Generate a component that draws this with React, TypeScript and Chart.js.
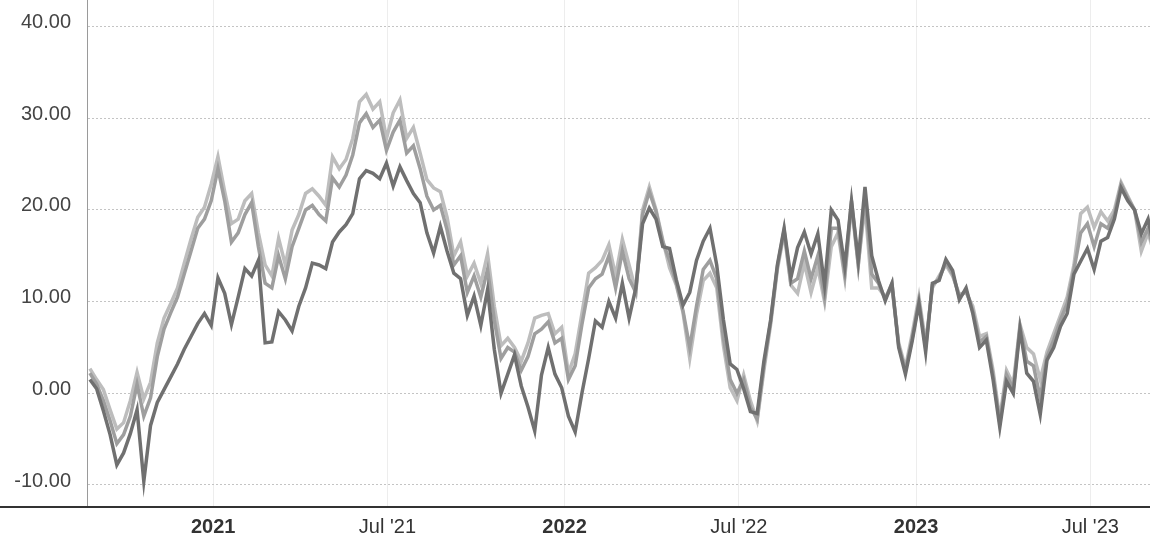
import React, { useEffect, useRef } from 'react';
import { Chart, registerables } from 'chart.js';

Chart.register(...registerables);

// x values: days relative to 1 Jan 2021, one point per week
const FIRST_DAY = -128;
const STEP_DAYS = 7;
const X_MIN = -131;
const X_MAX = 973;

const TICK_DAYS = [0, 181, 365, 546, 730, 911];
const TICK_LABELS = ['2021', "Jul '21", '2022', "Jul '22", '2023', "Jul '23"];
const YEAR_TICKS = ['2021', '2022', '2023'];

const Y_TICKS = [-10, 0, 10, 20, 30, 40];
const Y_MIN = -12.4;
const Y_MAX = 42.9;

const seriesDark = [
  1.5, 0.5, -1.9, -4.5, -7.8, -6.5, -4.4, -1.8, -9.6, -3.5,
  -1.0, 0.4, 1.8, 3.2, 4.8, 6.2, 7.6, 8.7, 7.4, 12.6,
  10.9, 7.5, 10.5, 13.6, 12.8, 14.5, 5.5, 5.6, 8.9, 8.0,
  6.8, 9.5, 11.5, 14.2, 14.0, 13.6, 16.5, 17.6, 18.4, 19.6,
  23.4, 24.3, 24.0, 23.4, 25.1, 22.6, 24.7, 23.2, 21.8, 20.8,
  17.5, 15.3, 18.2, 15.5, 13.1, 12.5, 8.5, 10.6, 7.4, 11.3,
  4.8, 0.0, 2.1, 4.2, 0.8, -1.5, -4.1, 2.0, 5.0, 2.1,
  0.6, -2.5, -4.2, 0.0, 3.8, 7.9, 7.2, 10.0, 8.2, 12.0,
  8.2, 11.5, 18.5, 20.2, 19.0, 16.0, 15.8, 12.4, 9.6, 11.0,
  14.5, 16.6, 18.0, 14.0, 8.0, 3.2, 2.6, 0.5, -2.0, -2.2,
  3.5, 8.0, 14.0, 18.0, 12.6, 15.9, 17.6, 15.2, 17.4, 11.8,
  20.0, 18.9, 13.8, 21.0, 14.5, 22.5, 15.0, 12.3, 10.1, 12.0,
  5.0, 2.1, 5.7, 9.8, 4.5, 12.0, 12.3, 14.6, 13.4, 10.2,
  11.5, 8.7, 5.0, 5.8, 1.5, -3.7, 1.3, 0.0, 7.0, 2.2,
  1.3, -2.3, 3.6, 5.0, 7.3, 8.7, 13.0, 14.4, 15.8, 13.5,
  16.6, 17.0, 19.0, 22.4, 21.0, 20.0, 17.4, 19.0, 15.5,
];

const seriesMid = [
  2.2, 1.0, -0.8, -3.0, -5.5, -4.5, -2.5, 1.0, -2.5, -0.5,
  4.0, 7.0, 8.8, 10.5, 13.0, 15.5, 18.0, 19.0, 21.0, 24.5,
  21.0, 16.5, 17.5, 19.5, 20.8, 16.0, 12.0, 11.5, 15.0, 12.5,
  16.0, 18.0, 20.0, 20.5, 19.5, 18.8, 23.5, 22.5, 23.8, 26.0,
  29.5, 30.5, 29.0, 29.8, 26.5, 28.5, 29.8, 26.2, 27.0, 24.5,
  21.5, 20.0, 20.5, 17.8, 14.0, 15.0, 11.0, 12.8, 10.5, 13.5,
  8.0, 3.8, 5.0, 4.5, 2.5, 4.0, 6.5, 7.0, 7.8, 5.5,
  6.0, 1.5, 3.0, 7.5, 11.5, 12.5, 13.0, 15.0, 11.5, 15.5,
  12.5, 11.0, 19.5, 22.0, 19.8, 16.5, 14.5, 12.0, 9.0, 5.0,
  9.5, 13.5, 14.5, 12.5, 6.0, 1.5, 0.0, 1.5, -1.5, -2.8,
  3.0, 7.8, 13.8, 17.8, 12.0, 12.5, 15.5, 12.5, 15.0, 10.5,
  18.0, 18.0, 13.0, 21.0, 14.0, 21.5, 13.0, 12.0, 10.3, 12.0,
  5.2, 2.5, 6.0, 10.0, 5.0, 11.8, 12.5, 14.3, 13.0, 10.5,
  11.2, 9.0, 5.6, 6.2, 2.0, -3.2, 2.0, 0.5, 7.3, 3.5,
  3.0, -0.5, 4.0, 5.8, 8.0, 9.8, 13.5, 17.5, 18.5, 16.0,
  18.5, 18.0, 19.5, 22.8, 21.3, 20.0, 16.5, 18.0, 15.2,
];

const seriesLight = [
  2.7, 1.5, 0.4, -1.8, -3.9, -3.2, -0.8, 2.3, -0.6, 1.2,
  5.5, 8.2, 9.8, 11.5, 14.2, 16.8, 19.2, 20.3, 22.8, 25.8,
  22.0, 18.5, 19.0, 21.0, 21.8, 17.5, 14.0, 12.8, 16.9, 14.0,
  17.8, 19.5, 21.8, 22.3, 21.5, 20.5, 25.8, 24.5, 25.5, 27.8,
  31.8, 32.6, 31.0, 31.8, 27.8, 30.6, 32.0, 27.8, 29.0, 26.2,
  23.3, 22.4, 22.0, 19.2, 15.0, 16.5, 12.8, 14.2, 12.0, 15.2,
  9.5, 5.2, 6.0, 5.0, 3.5, 5.5, 8.2, 8.5, 8.7, 6.5,
  7.2, 2.2, 4.3, 8.7, 13.1, 13.7, 14.5, 16.2, 12.8, 16.8,
  14.0, 11.2, 20.0, 22.5, 20.0, 16.7, 13.7, 11.8, 8.8, 3.8,
  8.6, 12.3, 13.1, 11.5, 5.2, 0.6, -0.8, 2.0, -0.8, -3.0,
  2.5, 7.5, 13.5, 17.5, 11.8, 10.9, 14.2, 11.0, 13.7, 10.0,
  16.0, 17.5, 12.6, 20.5, 14.0, 20.5, 11.5, 11.5, 10.5, 11.5,
  5.5, 2.8, 6.5, 10.5, 5.5, 11.5, 12.8, 14.0, 12.8, 10.8,
  11.0, 9.5, 6.2, 6.5, 2.5, -2.8, 2.5, 1.0, 7.5, 5.0,
  4.3, 1.5, 4.5, 6.5, 8.5, 10.5, 14.0, 19.6, 20.3, 18.1,
  19.8, 18.8, 20.0, 23.0, 21.5, 20.0, 15.5, 17.5, 15.0,
];

const toPoints = (values: number[]) =>
  values.map((v, i) => ({ x: FIRST_DAY + i * STEP_DAYS, y: v }));

const FONT = "'Liberation Sans', Arial, sans-serif";

const baseLinePlugin = {
  id: 'baseLine',
  afterDraw(chart: any) {
    const { ctx, chartArea, width } = chart;
    ctx.save();
    ctx.strokeStyle = '#333333';
    ctx.lineWidth = 2;
    ctx.beginPath();
    ctx.moveTo(0, chartArea.bottom);
    ctx.lineTo(width, chartArea.bottom);
    ctx.stroke();
    ctx.restore();
  },
};

const zeroPadding = (scale: any) => {
  scale.paddingTop = 0;
  scale.paddingBottom = 0;
  scale.paddingLeft = 0;
  scale.paddingRight = 0;
};

export default function App() {
  const canvasRef = useRef<HTMLCanvasElement | null>(null);

  useEffect(() => {
    if (!canvasRef.current) return;
    const chart = new Chart(canvasRef.current, {
      type: 'line',
      data: {
        datasets: [
          {
            label: 'A',
            data: toPoints(seriesDark),
            borderColor: '#707070',
            borderWidth: 3.5,
            pointRadius: 0,
            tension: 0,
          },
          {
            label: 'B',
            data: toPoints(seriesMid),
            borderColor: '#9e9e9e',
            borderWidth: 3.5,
            pointRadius: 0,
            tension: 0,
          },
          {
            label: 'C',
            data: toPoints(seriesLight),
            borderColor: '#bdbdbd',
            borderWidth: 3.5,
            pointRadius: 0,
            tension: 0,
          },
        ],
      },
      options: {
        animation: false,
        responsive: false,
        layout: { padding: 0 },
        plugins: {
          legend: { display: false },
          tooltip: { enabled: false },
        },
        scales: {
          x: {
            type: 'linear',
            min: X_MIN,
            max: X_MAX,
            afterBuildTicks: (scale: any) => {
              scale.ticks = TICK_DAYS.map((d) => ({ value: d }));
            },
            afterFit: (scale: any) => {
              scale.height = 30;
              zeroPadding(scale);
            },
            grid: { display: true, color: '#ededed', drawTicks: false },
            border: { display: false },
            ticks: {
              autoSkip: false,
              maxRotation: 0,
              padding: 8,
              color: '#333333',
              callback: (value: any) => {
                const idx = TICK_DAYS.indexOf(Number(value));
                return idx >= 0 ? TICK_LABELS[idx] : '';
              },
              font: (ctx: any) => {
                const idx = TICK_DAYS.indexOf(ctx.tick ? ctx.tick.value : NaN);
                const lbl = idx >= 0 ? TICK_LABELS[idx] : '';
                return {
                  family: FONT,
                  size: 20,
                  weight: YEAR_TICKS.includes(lbl) ? 'bold' : 'normal',
                };
              },
            },
          },
          y: {
            type: 'linear',
            min: Y_MIN,
            max: Y_MAX,
            afterBuildTicks: (scale: any) => {
              scale.ticks = Y_TICKS.map((v) => ({ value: v }));
            },
            afterFit: (scale: any) => {
              scale.width = 87;
              zeroPadding(scale);
            },
            grid: { color: '#c4c4c4', lineWidth: 1, drawTicks: false },
            border: { display: true, color: '#9a9a9a', width: 1, dash: [2, 2] },
            ticks: {
              padding: 16,
              labelOffset: -4,
              color: '#444444',
              font: { family: FONT, size: 20 },
              callback: (value: any) => Number(value).toFixed(2),
            },
          },
        },
      },
      plugins: [baseLinePlugin],
    });
    return () => chart.destroy();
  }, []);

  return (
    <div style={{ position: 'fixed', left: 0, top: 0, width: 1150, height: 537, background: '#ffffff' }}>
      <canvas ref={canvasRef} width={1150} height={537} />
    </div>
  );
}
